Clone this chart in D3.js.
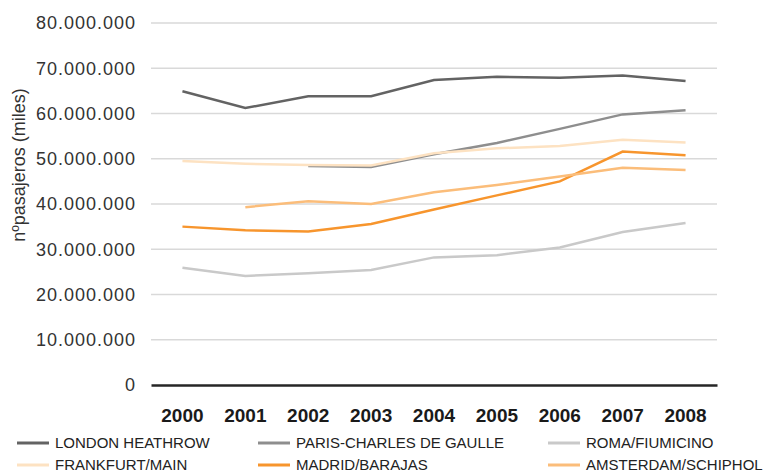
<!DOCTYPE html>
<html><head><meta charset="utf-8">
<script src="https://cdn.jsdelivr.net/npm/d3@7"></script>
<style>body{margin:0;background:#fff}svg{display:block}text{font-family:"Liberation Sans",Arial,sans-serif}</style>
</head><body>
<svg id="c" width="764" height="473"></svg>
<script>
const years = ["2000","2001","2002","2003","2004","2005","2006","2007","2008"];
const yTicks = [0,10000000,20000000,30000000,40000000,50000000,60000000,70000000,80000000];
const seriesNames = ["LONDON HEATHROW","PARIS-CHARLES DE GAULLE","ROMA/FIUMICINO","FRANKFURT/MAIN","MADRID/BARAJAS","AMSTERDAM/SCHIPHOL"];
const london = [64.9,61.2,63.8,63.8,67.4,68.1,67.9,68.4,67.2];
const paris = [null,null,48.4,48.2,51.0,53.5,56.6,59.8,60.7];
const roma = [25.9,24.1,24.7,25.4,28.2,28.7,30.4,33.8,35.8];
const frankfurt = [49.5,48.9,48.6,48.5,51.2,52.3,52.8,54.2,53.6];
const madrid = [35.0,34.2,33.9,35.6,38.8,41.9,45.0,51.6,50.8];
const amsterdam = [null,39.3,40.6,40.0,42.6,44.2,46.1,48.0,47.5];
const colors = ["#636363","#8e8e8e","#c9c9c9","#fde2c2","#f7952d","#fbbd7a"];

const data = [london,paris,roma,frankfurt,madrid,amsterdam].map(a=>a.map(v=>v==null?null:v*1e6));
const svg = d3.select("#c");
const x = d3.scaleBand().domain(years).range([151,717]);
const y = d3.scaleLinear().domain([0,80000000]).range([385,23]);
const fmt = v => v===0 ? "0" : d3.format(",")(v).replace(/,/g,".");

// gridlines
svg.append("g").selectAll("line").data(yTicks.filter(t=>t>0)).join("line")
  .attr("x1",151).attr("x2",717).attr("y1",d=>y(d)).attr("y2",d=>y(d))
  .attr("stroke","#d9d9d9").attr("stroke-width",1.5);

// y axis labels
const ya = svg.append("g").attr("transform","translate(151,0)")
  .call(d3.axisLeft(y).tickValues(yTicks).tickFormat(fmt).tickSize(0).tickPadding(15));
ya.select(".domain").remove();
ya.selectAll("text").attr("font-size",18).attr("letter-spacing","1px").attr("fill","#333").style("font-family","'Liberation Sans',Arial,sans-serif");

// x axis
const xa = svg.append("g").attr("transform","translate(0,385)")
  .call(d3.axisBottom(x).tickSize(0).tickPadding(0));
xa.select(".domain").attr("stroke","#262626").attr("stroke-width",2.5);
xa.selectAll("text").attr("dy",null).attr("y",37).attr("font-size",19).attr("font-weight","bold").attr("fill","#1a1a1a").style("font-family","'Liberation Sans',Arial,sans-serif");

// y title
svg.append("text").attr("transform","translate(25,165) rotate(-90)").attr("text-anchor","middle")
  .attr("font-size",18).attr("fill","#333").text("nºpasajeros (miles)");

// lines
const line = d3.line().defined(d=>d!=null).x((d,i)=>x(years[i])+x.bandwidth()/2).y(d=>y(d));
svg.append("g").selectAll("path").data(data).join("path")
  .attr("d",d=>line(d)).attr("fill","none").attr("stroke",(d,i)=>colors[i]).attr("stroke-width",2.5);

// legend
const legPos = [[17,443],[258,443],[548,443],[17,465],[258,465],[548,465]];
const lg = svg.append("g").selectAll("g").data(seriesNames).join("g")
  .attr("transform",(d,i)=>`translate(${legPos[i][0]},${legPos[i][1]})`);
lg.append("line").attr("x1",0).attr("x2",32).attr("y1",0).attr("y2",0)
  .attr("stroke",(d,i)=>colors[i]).attr("stroke-width",3);
lg.append("text").attr("x",38).attr("y",5).attr("font-size",15).attr("fill","#222").text(d=>d);
</script>
</body></html>
